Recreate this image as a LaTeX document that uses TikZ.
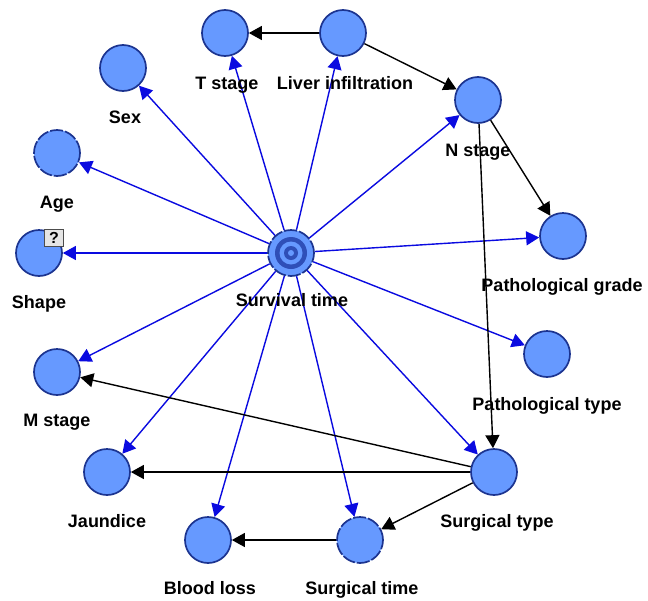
\documentclass[tikz,border=0pt]{standalone}
\usepackage{fontspec}
\setmainfont{Liberation Sans}
\usetikzlibrary{arrows.meta}
\definecolor{nodefill}{HTML}{6699FF}
\definecolor{nodeborder}{HTML}{1C3490}
\definecolor{ringdark}{HTML}{2F4FB8}
\definecolor{edgeblue}{HTML}{0A0AE0}
\begin{document}
\begin{tikzpicture}[x=1pt,y=-1pt,
  vnode/.style={circle, draw=nodeborder, line width=1.7pt, fill=nodefill, minimum size=46pt, inner sep=0pt},
  dnode/.style={vnode, dash pattern=on 13pt off 2pt},
  lab/.style={font=\bfseries\fontsize{18}{20}\selectfont, anchor=base, inner sep=0pt},
  barrow/.style={-{Triangle[length=13pt,width=14pt]}, draw=edgeblue, line width=1.4pt},
  karrow/.style={-{Triangle[length=13pt,width=14pt]}, draw=black, line width=1.4pt},
  qbox/.style={draw=gray!60!black, fill=gray!20, line width=0.9pt, minimum width=19pt, minimum height=17pt, inner sep=0pt, font=\bfseries\fontsize{16}{16}\selectfont}
]
\useasboundingbox (0,0) rectangle (648,600);
\fill[white] (0,0) rectangle (648,600);

% nodes
\node[vnode] (T) at (225,33) {};
\node[vnode] (L) at (343,33) {};
\node[vnode] (N) at (478,100) {};
\node[vnode] (Sex) at (123,68) {};
\node[dnode] (Age) at (57,153) {};
\node[vnode] (Shape) at (39,253) {};
\node[dnode] (S) at (291,253) {};
\node[vnode] (PG) at (563,236) {};
\node[vnode] (PT) at (547,354) {};
\node[vnode] (M) at (57,372) {};
\node[vnode] (J) at (107,472) {};
\node[vnode] (ST) at (494,472) {};
\node[vnode] (BL) at (208,540) {};
\node[dnode] (STm) at (360,540) {};

% target rings of Survival time
\fill[ringdark] (S.center) circle[radius=16pt];
\fill[nodefill] (S.center) circle[radius=11.5pt];
\fill[ringdark] (S.center) circle[radius=7pt];
\fill[nodefill] (S.center) circle[radius=3pt];

% question box on Shape
\node[qbox] (q) at (54,238) {?};

% blue edges from Survival time
\foreach \t in {T,L,N,Sex,Age,Shape,PG,PT,M,J,ST,BL,STm}
  \draw[barrow] (S) -- (\t);

% black edges
\draw[karrow] (L) -- (T);
\draw[karrow] (L) -- (N);
\draw[karrow] (N) -- (PG);
\draw[karrow] (N) -- (ST);
\draw[karrow] (ST) -- (M);
\draw[karrow] (ST) -- (J);
\draw[karrow] (ST) -- (STm);
\draw[karrow] (STm) -- (BL);

% labels
\node[lab] (lT) at (227,89.5) {T stage};
\node[lab] (lL) at (345,89.5) {Liver infiltration};
\node[lab] (lN) at (478,156.5) {N stage};
\node[lab] (lSex) at (125,123.5) {Sex};
\node[lab] (lAge) at (57,208.5) {Age};
\node[lab] (lShape) at (39,308.5) {Shape};
\node[lab] (lS) at (292,306.5) {Survival time};
\node[lab] (lPG) at (562,291.5) {Pathological grade};
\node[lab] (lPT) at (547,410.5) {Pathological type};
\node[lab] (lM) at (57,426.5) {M stage};
\node[lab] (lJ) at (107,527.5) {Jaundice};
\node[lab] (lST) at (497,527.5) {Surgical type};
\node[lab] (lBL) at (210,594.5) {Blood loss};
\node[lab] (lSTm) at (362,594.5) {Surgical time};
\end{tikzpicture}
\end{document}
